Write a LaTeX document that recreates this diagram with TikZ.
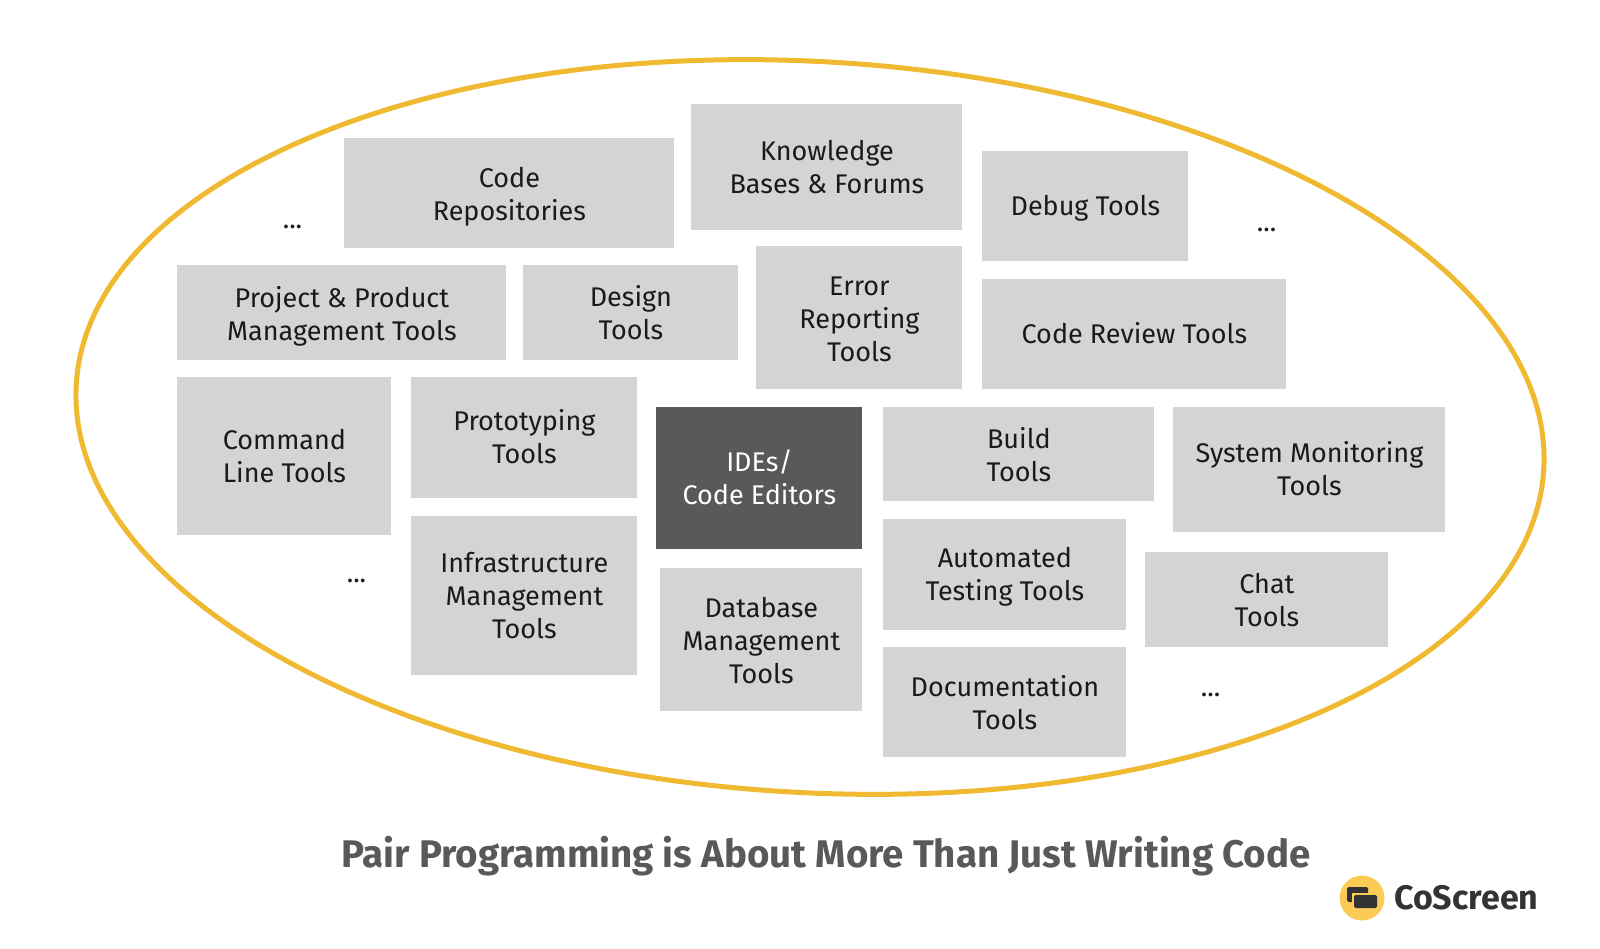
\documentclass[tikz,border=0pt]{standalone}
\usepackage{fontspec}
\setmainfont{Fira Sans}
\definecolor{boxgray}{HTML}{D4D4D4}
\definecolor{darkbox}{HTML}{595959}
\definecolor{ringgold}{HTML}{F0B932}
\definecolor{inktext}{HTML}{1A1A1A}
\definecolor{titlegray}{HTML}{595959}
\definecolor{logogold}{HTML}{FCCB55}
\definecolor{logoink}{HTML}{333333}
\newcommand{\bx}[8][toolbox]{% style, name, x0, y0, x1, y1, text, text lift
  \node[#1,minimum width=\dimexpr#5pt-#3pt\relax,minimum height=\dimexpr#6pt-#4pt\relax,
        label={[#1 text,yshift=#8pt]center:{#7}}] (#2) at ({(#3+#5)/2+0.4},{(#4+#6)/2+0.4}) {};}
\tikzset{
  toolbox/.style={fill=boxgray,inner sep=0pt},
  hotbox/.style={fill=darkbox,inner sep=0pt},
  toolbox text/.style={text=inktext,inner sep=0pt,align=center,font=\fontsize{27}{33}\selectfont},
  hotbox text/.style={text=white,inner sep=0pt,align=center,font=\fontsize{27}{33}\selectfont},
  ring/.style={draw=ringgold,line width=5pt},
  dotsnote/.style={text=inktext,inner sep=0pt,font=\fontsize{27}{33}\selectfont},
  headline/.style={text=titlegray,inner sep=0pt,font=\fontsize{38.5}{42}\selectfont\bfseries},
  brand/.style={text=logoink,inner sep=0pt,anchor=west,font=\fontsize{34}{38}\selectfont\bfseries},
}
\begin{document}
\begin{tikzpicture}[x=1pt,y=-1pt]
\useasboundingbox (0,0) rectangle (1600,949);
\draw[ring,rotate around={-3.3:(810,427)}] (810,427) ellipse [x radius=735pt,y radius=365.5pt];
\bx{code}{344}{138}{674}{248}{Code\\Repositories}{-3}
\bx{know}{691}{104}{962}{230}{Knowledge\\Bases \& Forums}{0}
\bx{debug}{982}{151}{1188}{261}{Debug Tools}{-2}
\bx{proj}{177}{265}{506}{360}{Project \& Product\\Management Tools}{-3}
\bx{design}{523}{265}{738}{360}{Design\\Tools}{0}
\bx{error}{756}{246}{962}{389}{Error\\Reporting\\Tools}{-1}
\bx{review}{982}{279}{1286}{389}{Code Review Tools}{1}
\bx{cmd}{177}{377}{391}{535}{Command\\Line Tools}{0}
\bx{proto}{411}{377}{637}{498}{Prototyping\\Tools}{1}
\bx[hotbox]{ide}{656}{407}{862}{549}{IDEs/\\Code Editors}{1}
\bx{build}{883}{407}{1154}{501}{Build\\Tools}{0}
\bx{sys}{1173}{407}{1445}{532}{System Monitoring\\Tools}{1}
\bx{infra}{411}{516}{637}{675}{Infrastructure\\Management\\Tools}{0}
\bx{auto}{883}{519}{1126}{630}{Automated\\Testing Tools}{-2}
\bx{chat}{1145}{552}{1388}{647}{Chat\\Tools}{0}
\bx{db}{660}{568}{862}{711}{Database\\Management\\Tools}{-1}
\bx{doc}{883}{647}{1126}{757}{Documentation\\Tools}{0}
\node[dotsnote] (d1) at (292.5,227) {...};
\node[dotsnote] (d2) at (1266.5,230) {...};
\node[dotsnote] (d3) at (356.5,581) {...};
\node[dotsnote] (d4) at (1210.5,695) {...};
\node[headline] (title) at (826,856) {Pair Programming is About More Than Just Writing Code};
\node[circle,fill=logogold,minimum size=45pt,inner sep=0pt] (logo) at (1362,898) {};
\fill[logoink,rounded corners=1.5pt] (1347,887) rectangle (1368,902);
\fill[logogold] (1352,893) rectangle (1373,906);
\fill[logoink,rounded corners=1.5pt] (1354,895) rectangle (1377,908);
\node[brand] (name) at (1394,898) {CoScreen};
\end{tikzpicture}
\end{document}
